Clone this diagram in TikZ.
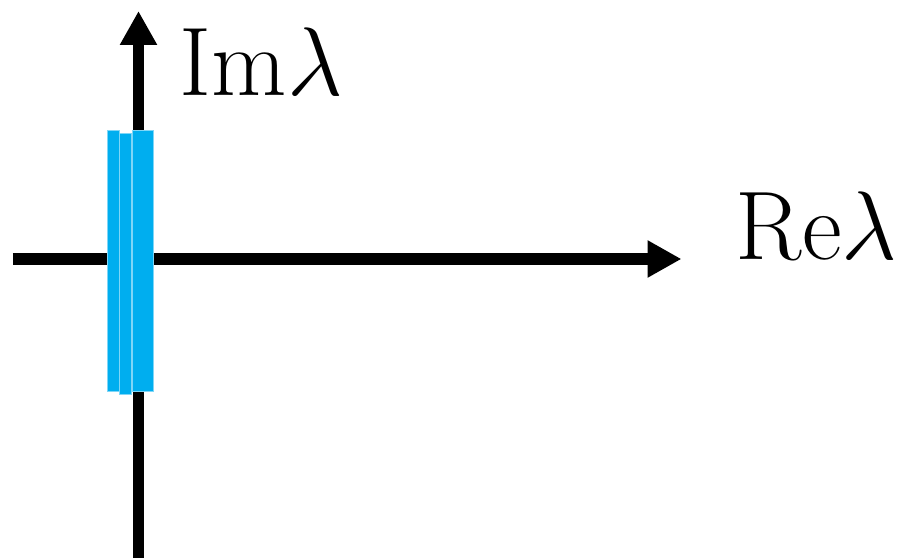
\documentclass[tikz,border=0pt]{standalone}
\usepackage{amsmath,amssymb}
\usepackage{tikz}
\usetikzlibrary{arrows.meta,positioning}
\definecolor{ink}{HTML}{000000}
\definecolor{band}{HTML}{00AEEF}
\definecolor{bandedge}{HTML}{7FD6F7}

\begin{document}
\begin{tikzpicture}[
  axis/.style={-{Triangle[length=6.8mm,width=7mm]},line width=6.3pt,color=ink},
  strip/.style={draw=bandedge,line width=0.5pt,fill=band,inner sep=0pt,minimum height=5.22cm},
  lbl/.style={inner sep=0pt,anchor=base west,font=\Huge,scale=2.23}]
  \useasboundingbox (0,0) rectangle (18.16,11.14);
  % axis ends
  \coordinate (xl) at (0.26,5.96);
  \coordinate (xr) at (13.63,5.96);
  \coordinate (yb) at (2.77,-0.1);
  \coordinate (yt) at (2.77,10.92);
  \draw[axis] (xl) -- (xr);
  \draw[axis] (yb) -- (yt);
  % three thin strips near the imaginary axis
  \node[strip,minimum width=0.24cm]  (s1) at (2.266,5.916) {};
  \node[strip,minimum width=0.232cm] (s2) at (2.510,5.864) {};
  \node[strip,minimum width=0.412cm] (s3) at (2.860,5.916) {};
  % labels
  \node[lbl] (im) at (3.58,9.22) {$\mathrm{Im}\lambda$};
  \node[lbl] (re) at (14.70,5.94) {$\mathrm{Re}\lambda$};
\end{tikzpicture}
\end{document}
